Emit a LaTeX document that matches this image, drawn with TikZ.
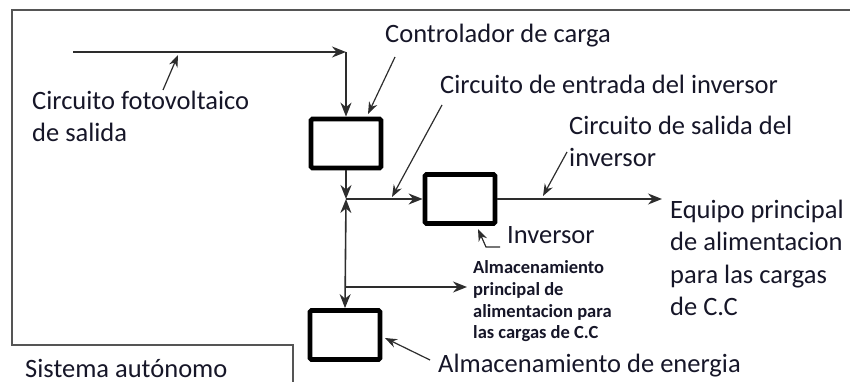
\documentclass[tikz,border=0pt]{standalone}
\usepackage{fontspec}
\setmainfont{Carlito}
\usetikzlibrary{arrows.meta}
\definecolor{txt}{RGB}{22,22,40}
\definecolor{wirec}{RGB}{45,45,45}
\definecolor{framec}{RGB}{85,85,85}
\begin{document}
\begin{tikzpicture}[x=1pt,y=-1pt,
  wire/.style={draw=wirec,line width=1.6pt},
  tip/.style={-{Stealth[length=14pt,width=11pt]}},
  lead/.style={draw=wirec,line width=1.2pt,-{Stealth[length=12pt,width=9pt]}},
  blk/.style={draw=black,line width=4.8pt,rounded corners=1.5pt,minimum width=70pt,minimum height=49pt,inner sep=0pt,fill=white},
  lbl/.style={anchor=base west,inner sep=0pt,text=txt,font=\fontsize{26.5}{32}\selectfont},
  small/.style={anchor=base west,inner sep=0pt,text=txt,font=\fontsize{18.5}{22}\selectfont\bfseries},
  framel/.style={draw=framec,line width=1.6pt}]
\useasboundingbox (0,0) rectangle (850,382);
% frame
\draw[framel] (850,10) -- (12,10) -- (12,345) -- (293,345) -- (293,382);
% blocks
\node[blk] (ctrl) at (346,143.5) {};
\node[blk] (inv) at (460,199) {};
\node[blk] (store) at (345,335) {};
% coordinates
\coordinate (in) at (73,52);
\coordinate (corner) at (346,52);
\coordinate (j) at (346,199);
\coordinate (out) at (662,199);
\coordinate (br) at (346,287);
\coordinate (brend) at (467,287);
% wires
\draw[wire,tip] (in) -- (corner);
\draw[wire,tip] (corner) -- (ctrl.north);
\draw[wire,tip] (ctrl.south) -- (j);
\draw[wire,tip] (j) -- (inv.west);
\draw[wire,tip] (inv.east) -- (out);
\draw[wire,{Stealth[length=14pt,width=11pt]}-{Stealth[length=14pt,width=11pt]}] (j) -- (store.north);
\draw[wire,tip] (br) -- (brend);
% labels
\node[lbl] (lcfv1) at (32,110) {Circuito fotovoltaico};
\node[lbl] (lcfv2) at (32,142) {de salida};
\node[lbl] (lctrl) at (385,43) {Controlador de carga};
\node[lbl] (lent) at (440,94) {Circuito de entrada del inversor};
\node[lbl] (lsal1) at (569,135) {Circuito de salida del};
\node[lbl] (lsal2) at (569,167) {inversor};
\node[lbl] (linv) at (507,243) {Inversor};
\node[lbl] (leq1) at (670,218) {Equipo principal};
\node[lbl] (leq2) at (670,250) {de alimentacion};
\node[lbl] (leq3) at (670,283) {para las cargas};
\node[lbl] (leq4) at (670,315) {de C.C};
\node[lbl] (lener) at (438,372) {Almacenamiento de energia};
\node[lbl] (lsis) at (25,377) {Sistema autónomo};
\node[small] (s1) at (473,273) {Almacenamiento};
\node[small] (s2) at (473,295) {principal de};
\node[small] (s3) at (473,317) {alimentacion para};
\node[small] (s4) at (473,338) {las cargas de C.C};
% leaders
\coordinate (a1) at (163,90); \coordinate (a1t) at (178,55);
\coordinate (a2) at (395,57); \coordinate (a2t) at (368,114);
\coordinate (a3) at (442,105); \coordinate (a3t) at (392,197);
\coordinate (a4) at (567,152); \coordinate (a4t) at (543,196);
\coordinate (a5) at (500,247); \coordinate (a5m) at (486,247); \coordinate (a5t) at (478,229);
\coordinate (a6) at (430,360); \coordinate (a6t) at (385,338);
\draw[lead] (a1) -- (a1t);
\draw[lead] (a2) -- (a2t);
\draw[lead] (a3) -- (a3t);
\draw[lead] (a4) -- (a4t);
\draw[lead] (a5) -- (a5m) -- (a5t);
\draw[lead] (a6) -- (a6t);
\end{tikzpicture}
\end{document}
